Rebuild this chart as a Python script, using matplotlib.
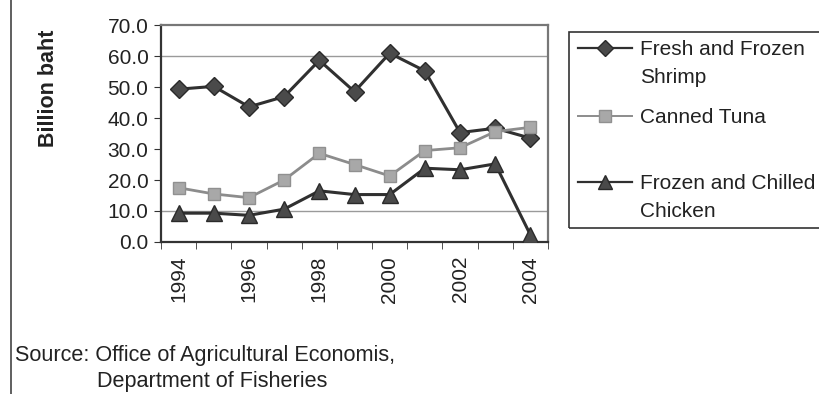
import numpy as np
import matplotlib.pyplot as plt
from matplotlib.lines import Line2D
from matplotlib.patches import Rectangle

plt.rcParams['font.family'] = ['Liberation Sans', 'DejaVu Sans']

years = [1994, 1995, 1996, 1997, 1998, 1999, 2000, 2001, 2002, 2003, 2004]
shrimp = [49.3, 50.2, 43.6, 46.9, 58.6, 48.5, 60.9, 55.2, 35.3, 36.7, 33.5]
tuna = [17.5, 15.5, 14.3, 20.0, 28.6, 25.0, 21.3, 29.5, 30.4, 35.6, 37.0]
chicken = [9.3, 9.3, 8.6, 10.6, 16.5, 15.3, 15.3, 23.8, 23.3, 25.2, 2.3]
labels = ['Fresh and Frozen\nShrimp', 'Canned Tuna', 'Frozen and Chilled\nChicken']

# line style, marker, face colour, marker size for each series
styles = [
    dict(color='#303030', lw=2.2, marker='D', mfc='#4a4a4a', mec='#2a2a2a', ms=9.5),
    dict(color='#8c8c8c', lw=2.0, marker='s', mfc='#a8a8a8', mec='#909090', ms=9),
    dict(color='#303030', lw=2.2, marker='^', mfc='#4a4a4a', mec='#2a2a2a', ms=11),
]

fig = plt.figure(figsize=(8.19, 3.94), dpi=100)
ax = fig.add_axes([0.1966, 0.3858, 0.4725, 0.5507])

x = np.arange(len(years))
for vals, st in zip([shrimp, tuna, chicken], styles):
    ax.plot(x, vals, **st, zorder=3)

for g in (10, 60):
    ax.axhline(g, color='#9a9a9a', lw=1.0, zorder=1)

ax.set_xlim(-0.5, len(years) - 0.5)
ax.set_ylim(0, 70)
ax.set_yticks(np.arange(0, 71, 10))
ax.set_yticklabels([f'{v:.1f}' for v in range(0, 71, 10)], fontsize=15, color='#222222')
ax.set_xticks(x[::2])
ax.set_xticklabels([str(y) for y in years[::2]], rotation=90, fontsize=15, color='#222222')
ax.set_xticks(np.arange(-0.5, len(years), 1), minor=True)
ax.tick_params(axis='x', which='major', length=0, pad=10)
ax.tick_params(axis='x', which='minor', length=5, direction='out', color='#333333')
ax.tick_params(axis='y', length=5, direction='out', color='#333333', pad=4)

for side in ('left', 'bottom'):
    ax.spines[side].set_color('#333333')
    ax.spines[side].set_linewidth(1.6)
for side in ('top', 'right'):
    ax.spines[side].set_color('#777777')
    ax.spines[side].set_linewidth(1.6)

fig.text(0.059, 0.775, 'Billion baht', rotation=90, ha='center', va='center',
         fontsize=15.5, fontweight='bold', color='#222222')

# legend box drawn by hand so each handle sits on the first text line
W, H = 819, 394
fig.patches.append(Rectangle((569 / W, 1 - 228 / H), 260 / W, 196 / H,
                             transform=fig.transFigure, fill=False,
                             edgecolor='#333333', lw=1.2))
rows = [48, 116, 182]
for yy, lab, st in zip(rows, labels, styles):
    fy = 1 - yy / H
    fig.lines.append(Line2D([578 / W, 632 / W], [fy, fy], transform=fig.transFigure,
                            color=st['color'], lw=1.6 if st['marker'] != 's' else 1.4))
    fig.lines.append(Line2D([605 / W], [fy], transform=fig.transFigure, marker=st['marker'],
                            mfc=st['mfc'], mec=st['mec'], ms=st['ms'] - 1, lw=0))
    fig.text(640 / W, fy + 0.021, lab, ha='left', va='top', fontsize=15,
             color='#222222', linespacing=1.6)

fig.text(15 / W, 1 - 355 / H, 'Source: Office of Agricultural Economis,',
         ha='left', va='center', fontsize=15.6, color='#222222')
fig.text(97 / W, 1 - 381 / H, 'Department of Fisheries',
         ha='left', va='center', fontsize=15.6, color='#222222')

fig.lines.append(Line2D([11 / W, 11 / W], [0, 1], transform=fig.transFigure,
                        color='#444444', lw=1.2))

fig.savefig('out.png', dpi=100, facecolor='white')
